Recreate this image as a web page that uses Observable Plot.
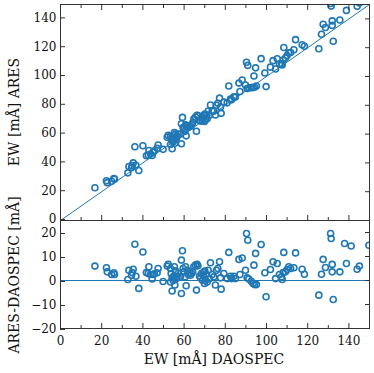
<!DOCTYPE html>
<html>
<head>
<meta charset="utf-8">
<script src="https://cdn.jsdelivr.net/npm/d3@7"></script>
<script src="https://cdn.jsdelivr.net/npm/@observablehq/plot@0.6"></script>
<style>
  html, body { margin: 0; padding: 0; background: #fff; }
  #wrap { position: relative; width: 374px; height: 373px; }
  #wrap svg { display: block; font-family: "DejaVu Serif", serif; }
</style>
</head>
<body>
<div id="wrap"></div>
<script>
// EW measured by DAOSPEC (mÅ)
const daospec = [16.7,22.3,22.7,24.8,25.9,26.2,32.7,33.2,34.5,35.3,34.8,36.1,36.6,38.0,40.0,41.7,42.9,42.6,43.7,44.5,45.0,45.6,46.9,47.4,49.8,51.8,52.3,53.4,53.7,54.2,53.4,54.2,54.7,55.0,55.3,55.8,55.5,56.3,56.6,57.1,58.3,58.7,58.7,59.2,59.5,59.9,60.4,60.7,61.0,61.5,62.0,62.6,63.1,63.6,64.2,64.7,65.5,66.0,66.3,66.7,67.5,68.0,68.4,68.9,69.3,69.6,69.9,70.1,70.4,70.7,71.2,71.7,72.3,72.8,73.6,74.4,75.2,75.7,76.4,77.2,77.7,78.0,79.3,80.9,81.7,82.5,83.0,84.1,84.9,86.6,87.1,88.2,89.8,90.3,90.6,90.9,91.4,92.6,93.5,93.9,94.2,94.7,95.1,97.4,99.2,99.8,101.9,103.2,104.4,105.2,106.3,107.3,107.6,108.1,108.4,109.2,110.0,110.8,111.7,113.3,114.1,117.3,118.4,125.4,126.7,127.5,128.6,131.1,131.4,131.9,131.9,132.4,135.6,137.9,138.8,141.1,144.0,145.1,149.7];
// ARES - DAOSPEC difference (mÅ)
const residual = [6.0,5.3,3.6,2.5,3.2,2.5,0.4,4.3,2.2,4.7,3.3,15.1,1.8,-3.3,11.9,3.3,5.7,2.9,2.5,0.6,2.5,2.8,3.2,5.0,-0.4,6.0,6.8,5.0,2.9,1.1,-0.6,-4.4,0.0,1.8,5.7,4.0,-1.9,0.8,1.8,2.9,1.8,-5.4,8.5,12.4,5.0,3.6,1.5,5.7,-2.2,4.3,2.5,3.2,2.2,2.9,3.6,5.7,6.4,-4.0,6.7,6.1,1.9,1.1,2.9,0.1,2.2,3.6,-1.2,3.9,0.1,2.5,-0.6,4.3,0.8,7.4,2.5,1.5,-1.9,4.3,5.0,7.8,1.1,-3.6,2.9,0.8,11.7,1.8,0.8,1.8,0.8,8.8,2.5,9.4,4.3,19.6,1.1,16.8,0.6,-0.3,-1.2,6.4,-1.7,11.3,-1.7,15.0,3.2,-6.8,4.6,7.8,0.8,7.1,2.5,1.5,0.4,3.3,11.7,3.6,4.6,5.7,5.0,5.3,11.5,4.7,2.6,-6.1,2.6,8.8,5.4,19.6,17.5,6.7,3.6,-7.9,3.6,15.4,7.1,14.4,4.7,6.0,14.7];
// EW measured by ARES (mÅ)
const ares = daospec.map((d, i) => +(d + residual[i]).toFixed(1));

const oneToOne = [0, 150];
const zeroLine = [0];
const xTicksMajor = [0, 20, 40, 60, 80, 100, 120, 140];
const xTicksMinor = [10, 30, 50, 70, 90, 110, 130, 150];
const yTicksTop = [0, 20, 40, 60, 80, 100, 120, 140];
const yTicksBottom = [-20, -10, 0, 10, 20];

const rows = daospec.map((d, i) => ({daospec: d, ares: ares[i], diff: residual[i]}));

const C0 = "#1f77b4";
const AX = "#333";
const FS = 12;

const topPlot = Plot.plot({
  width: 374, height: 220,
  marginLeft: 60, marginRight: 5, marginTop: 4, marginBottom: 0,
  style: {fontFamily: "DejaVu Serif", fontSize: FS + "px", overflow: "visible", color: "#111"},
  x: {domain: [0, 150]},
  y: {domain: [0, 150]},
  marks: [
    Plot.line(oneToOne, {x: d => d, y: d => d, stroke: C0, strokeWidth: 1}),
    Plot.dot(rows, {x: "daospec", y: "ares", r: 3, stroke: C0, strokeWidth: 1.6, fill: "none", clip: true}),
    Plot.axisY({anchor: "left", ticks: yTicksTop, tickSize: -5, tickPadding: 9, dy: -1, stroke: AX, fontSize: FS, label: null}),
    Plot.axisY({anchor: "right", ticks: yTicksTop, tickSize: -5, tickFormat: () => "", stroke: AX, label: null}),
    Plot.axisX({anchor: "top", ticks: xTicksMajor, tickSize: -5, tickFormat: () => "", stroke: AX, label: null}),
    Plot.axisX({anchor: "top", ticks: xTicksMinor, tickSize: -3, tickFormat: () => "", stroke: AX, label: null}),
    Plot.axisX({anchor: "bottom", ticks: xTicksMajor, tickSize: -5, tickFormat: () => "", stroke: AX, label: null}),
    Plot.axisX({anchor: "bottom", ticks: xTicksMinor, tickSize: -3, tickFormat: () => "", stroke: AX, label: null}),
    Plot.frame({stroke: AX})
  ]
});

const bottomPlot = Plot.plot({
  width: 374, height: 153,
  marginLeft: 60, marginRight: 5, marginTop: 0, marginBottom: 45,
  style: {fontFamily: "DejaVu Serif", fontSize: FS + "px", overflow: "visible", color: "#111"},
  x: {domain: [0, 150]},
  y: {domain: [-20, 25]},
  marks: [
    Plot.ruleY(zeroLine, {stroke: C0, strokeWidth: 1}),
    Plot.dot(rows, {x: "daospec", y: "diff", r: 3, stroke: C0, strokeWidth: 1.6, fill: "none", clip: true}),
    Plot.axisY({anchor: "left", ticks: yTicksBottom, tickSize: -5, tickPadding: 9, dy: 1, stroke: AX, fontSize: FS, label: null, tickFormat: d => d < 0 ? "\u2212" + Math.abs(d) : String(d)}),
    Plot.axisY({anchor: "right", ticks: yTicksBottom, tickSize: -5, tickFormat: () => "", stroke: AX, label: null}),
    Plot.axisX({anchor: "bottom", ticks: xTicksMajor, tickSize: -5, tickPadding: 13, stroke: AX, fontSize: FS, label: null}),
    Plot.axisX({anchor: "bottom", ticks: xTicksMinor, tickSize: -3, tickFormat: () => "", stroke: AX, label: null}),
    Plot.frame({stroke: AX})
  ]
});

const wrap = document.getElementById("wrap");
wrap.appendChild(topPlot);
wrap.appendChild(bottomPlot);

// axis titles
const titles = [
  {text: "EW [mÅ] ARES", x: 14, y: 112, rot: true},
  {text: "ARES-DAOSPEC [mÅ]", x: 14, y: 275, rot: true},
  {text: "EW [mÅ] DAOSPEC", x: 214, y: 359, rot: false}
];
for (const t of titles) {
  const div = document.createElement("div");
  div.textContent = t.text;
  div.style.cssText = `position:absolute;left:${t.x}px;top:${t.y}px;font-family:'DejaVu Serif',serif;font-size:14px;color:#111;white-space:nowrap;line-height:1;transform:translate(-50%,-50%)${t.rot ? " rotate(-90deg)" : ""};`;
  wrap.appendChild(div);
}
</script>
</body>
</html>
